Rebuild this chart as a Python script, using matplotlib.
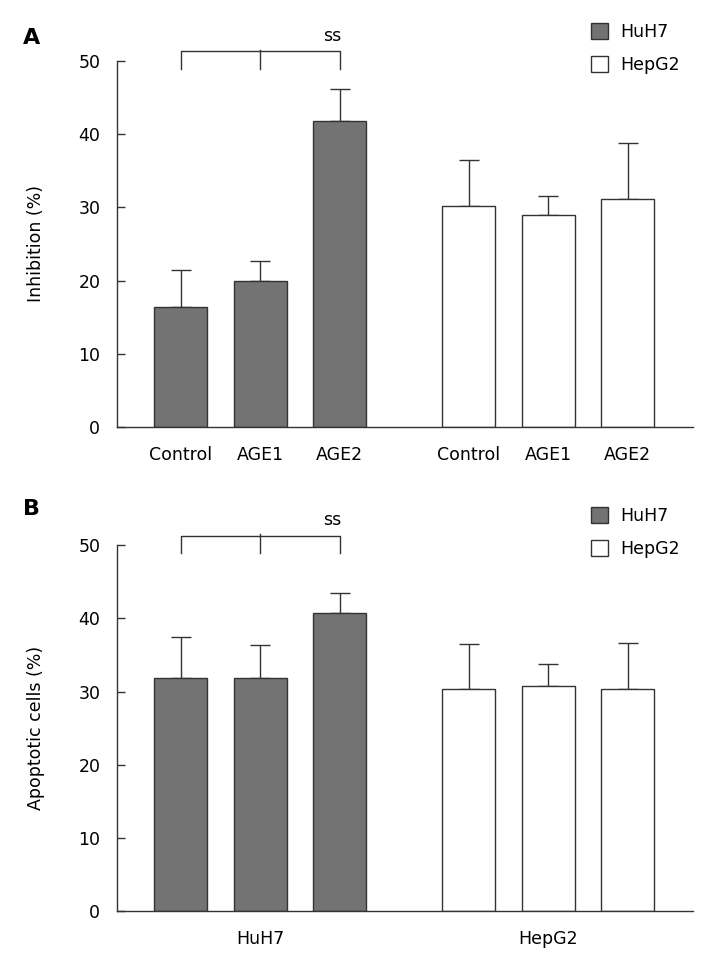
import numpy as np
import matplotlib.pyplot as plt

plt.rcParams['font.family'] = ['DejaVu Sans']

# Daten
groups = ['HuH7', 'HepG2']
treatments = ['Control', 'AGE1', 'AGE2']

inhib_huh7 = [16.4, 20.0, 41.8]
inhib_huh7_err = [5.0, 2.6, 4.3]
inhib_hepg2 = [30.2, 28.9, 31.1]
inhib_hepg2_err = [6.3, 2.7, 7.7]

apop_huh7 = [31.9, 31.9, 40.8]
apop_huh7_err = [5.5, 4.5, 2.7]
apop_hepg2 = [30.4, 30.7, 30.3]
apop_hepg2_err = [6.1, 3.1, 6.4]

yticks = [0, 10, 20, 30, 40, 50]

line_c = '#333333'
dark = '#737373'
fs = 12.5

x1 = np.arange(3)
x2 = np.arange(3) + 3.62
width = 0.667

fig = plt.figure(figsize=(7.09, 9.66), dpi=100)
axA = fig.add_axes([0.165, 0.558, 0.812, 0.379])
axB = fig.add_axes([0.165, 0.057, 0.812, 0.3785])


def draw_panel(ax, v1, e1, v2, e2, ylabel, leg_y):
    b1 = ax.bar(x1, v1, width, color=dark, edgecolor=line_c, linewidth=1.0, zorder=2, label='HuH7')
    b2 = ax.bar(x2, v2, width, color='white', edgecolor=line_c, linewidth=1.0, zorder=2, label='HepG2')
    ax.errorbar(x1, v1, yerr=[np.zeros(3), e1], fmt='none', ecolor=line_c,
                elinewidth=1.0, capsize=7.5, capthick=1.0, zorder=1)
    ax.errorbar(x2, v2, yerr=[np.zeros(3), e2], fmt='none', ecolor=line_c,
                elinewidth=1.0, capsize=7.5, capthick=1.0, zorder=1)
    ax.set_ylim(0, 50)
    ax.set_xlim(-0.805, 6.44)
    ax.set_yticks(yticks)
    for s in ['top', 'right']:
        ax.spines[s].set_visible(False)
    for s in ['left', 'bottom']:
        ax.spines[s].set_color(line_c)
        ax.spines[s].set_linewidth(1.0)
    ax.tick_params(direction='in', length=6, width=1.0, color=line_c, labelsize=fs)
    ax.tick_params(axis='x', pad=14)
    ax.tick_params(axis='y', pad=12)
    ax.set_ylabel(ylabel, fontsize=fs, labelpad=24)
    # Signifikanz-Klammer
    kw = dict(color=line_c, lw=1.0, clip_on=False)
    ax.plot([x1[0], x1[0], x1[2], x1[2]], [48.9, 51.3, 51.3, 48.9], **kw)
    ax.plot([x1[1], x1[1]], [48.9, 51.5], **kw)
    ax.text(x1[2] - 0.1, 53.4, 'ss', ha='center', va='center', fontsize=fs)
    fig.legend(handles=[b1, b2], loc='upper left', bbox_to_anchor=(0.833, leg_y),
               frameon=False, fontsize=fs, handlelength=1.0, handleheight=1.0,
               handletextpad=0.7, labelspacing=0.85, borderpad=0, borderaxespad=0)


draw_panel(axA, inhib_huh7, inhib_huh7_err, inhib_hepg2, inhib_hepg2_err, 'Inhibition (%)', 0.976)
axA.set_xticks(list(x1) + list(x2))
axA.set_xticklabels(treatments * 2)

draw_panel(axB, apop_huh7, apop_huh7_err, apop_hepg2, apop_hepg2_err, 'Apoptotic cells (%)', 0.475)
axB.set_xticks([x1[1], x2[1]])
axB.set_xticklabels(groups)

fig.text(0.032, 0.961, 'A', fontsize=16, fontweight='bold', ha='left', va='center')
fig.text(0.032, 0.473, 'B', fontsize=16, fontweight='bold', ha='left', va='center')

fig.savefig('out.png', dpi=100)
